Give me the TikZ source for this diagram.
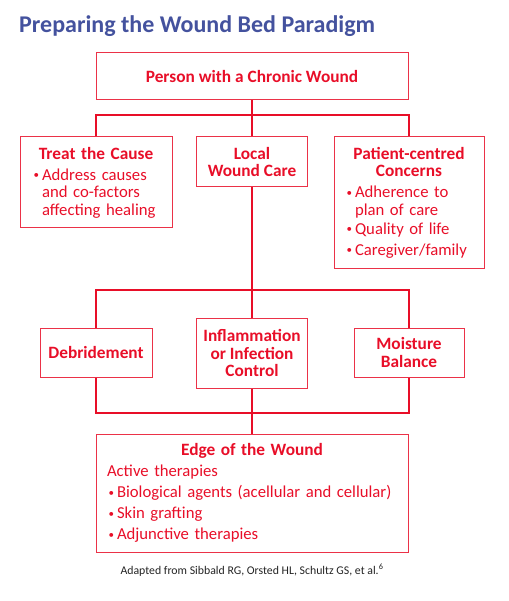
\documentclass[tikz,border=0pt]{standalone}
\usepackage{fontspec}
\setmainfont{Carlito}
\usetikzlibrary{positioning}
\definecolor{WoundRed}{RGB}{232,14,40}
\definecolor{TitleBlue}{RGB}{68,82,158}
\definecolor{NoteGray}{RGB}{35,35,35}
\newlength{\bulletwd}
\setlength{\bulletwd}{10pt}
\newcommand{\dotmark}{\hspace{1.5pt}\raisebox{1.3pt}{\fontsize{11}{11}\selectfont\textbullet}}
\newcommand{\bitem}[1]{\par\noindent\makebox[\bulletwd][l]{\dotmark}\parbox[t]{\dimexpr\linewidth-\bulletwd\relax}{\raggedright #1}\par}
\newcommand{\boxtitle}[1]{{\centering\bfseries\fontsize{17.3}{17.5}\selectfont #1\par}}
\tikzset{
    box/.style={draw=WoundRed!85, line width=1pt, text=WoundRed, inner sep=0pt, font=\fontsize{16.7}{17.5}\selectfont},
    headbox/.style={box, font=\bfseries\fontsize{17.3}{17.5}\selectfont, align=center},
    listbox/.style={box, execute at begin node={\raggedright\setlength{\parskip}{3.5pt}\setlength{\parindent}{0pt}}},
    link/.style={draw=WoundRed, line width=2.2pt}
}
\begin{document}
\begin{tikzpicture}[x=1pt, y=-1pt]
    \useasboundingbox (0,0) rectangle (508,601);
    \node[anchor=base west, inner sep=0pt, text=TitleBlue, font=\bfseries\fontsize{24}{28}\selectfont] (title) at (19,33) {Preparing the Wound Bed Paradigm};

    \node[headbox, minimum width=312, minimum height=47] (top) at (252,76.5) {Person with a Chronic Wound};

    \node[listbox, minimum width=152, minimum height=91, text width=128] (cause) at (96,182.5)
        {\boxtitle{Treat the Cause}\bitem{Address causes\newline and co-factors\newline affecting healing}};
    \node[headbox, minimum width=111, minimum height=50] (local) at (252,162) {Local\\Wound Care};
    \node[listbox, minimum width=150, minimum height=131, text width=128] (patient) at (409,202.5)
        {\boxtitle{Patient-centred\\Concerns}\bitem{Adherence to\newline plan of care}\bitem{Quality of life}\bitem{Caregiver/family}};

    \node[headbox, minimum width=112, minimum height=49] (debr) at (96,352.5) {Debridement};
    \node[headbox, minimum width=111, minimum height=70] (infl) at (252,353) {Inflammation\\or Infection\\Control};
    \node[headbox, minimum width=110, minimum height=49] (moist) at (409,352.5) {Moisture\\Balance};

    \node[listbox, minimum width=312, minimum height=118, text width=290] (edge) at (252,493)
        {\boxtitle{Edge of the Wound}Active therapies\bitem{Biological agents (acellular and cellular)}\bitem{Skin grafting}\bitem{Adjunctive therapies}};

    \node[anchor=base, inner sep=0pt, text=NoteGray, font=\fontsize{11.8}{13}\selectfont] (source) at (252,574)
        {Adapted from Sibbald RG, Orsted HL, Schultz GS, et al.\textsuperscript{6}};

    % connectors
    \coordinate (busA) at (252,115);
    \coordinate (busB) at (252,290);
    \coordinate (busC) at (252,413);
    \draw[link] (top.south) -- (busA);
    \draw[link] (cause.north) |- (busA) -| (patient.north);
    \draw[link] (busA) -- (local.north);
    \draw[link] (local.south) -- (busB);
    \draw[link] (debr.north) |- (busB) -| (moist.north);
    \draw[link] (busB) -- (infl.north);
    \draw[link] (debr.south) |- (busC) -| (moist.south);
    \draw[link] (infl.south) -- (edge.north);
\end{tikzpicture}
\end{document}
